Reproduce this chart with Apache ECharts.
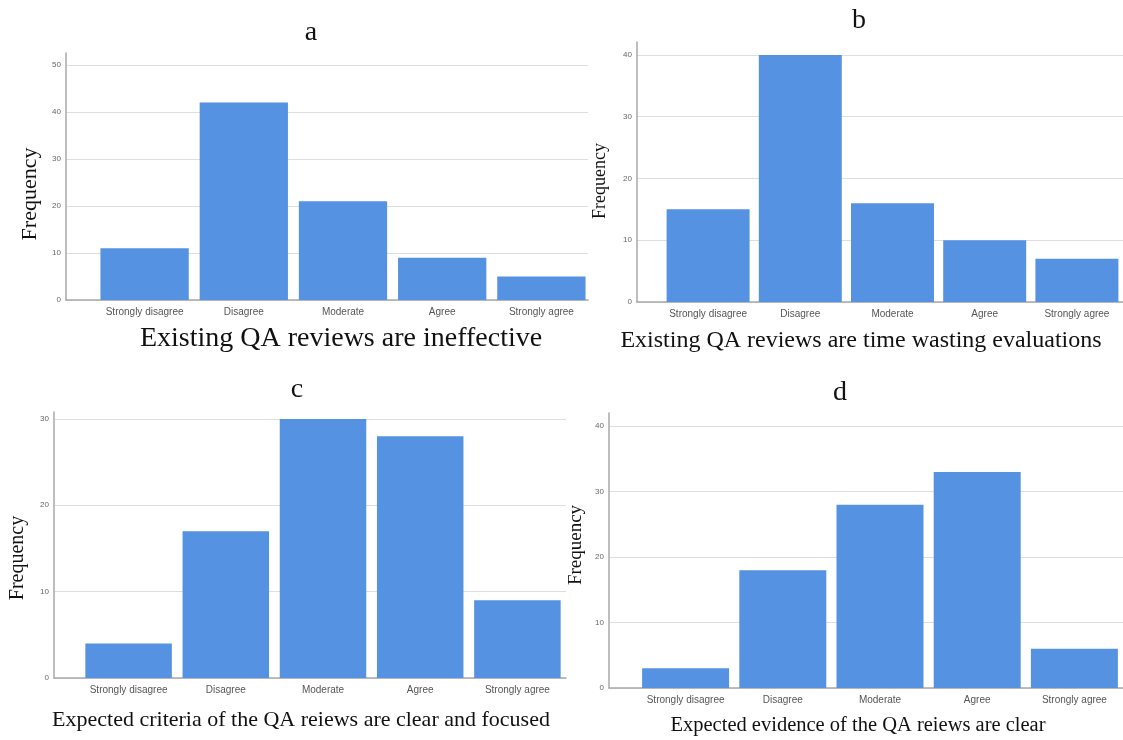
<!DOCTYPE html>
<html>
<head>
<meta charset="utf-8">
<script src="https://cdn.jsdelivr.net/npm/echarts@6/dist/echarts.min.js"></script>
<style>
  html, body { margin: 0; padding: 0; background: #ffffff; }
  #chart { width: 1123px; height: 740px; }
</style>
</head>
<body>
<div id="chart"></div>
<script>
// Response categories shared by all four survey items
const categories = ['Strongly disagree', 'Disagree', 'Moderate', 'Agree', 'Strongly agree'];

// Frequencies per item
const ineffective   = [11, 42, 21, 9, 5];
const timeWasting   = [15, 40, 16, 10, 7];
const criteriaClear = [4, 17, 30, 28, 9];
const evidenceClear = [3, 18, 28, 33, 6];

// Panel letters and item statements
const panelLetters = ['a', 'b', 'c', 'd'];
const itemTitles = [
  'Existing QA reviews are ineffective',
  'Existing QA reviews are time wasting evaluations',
  'Expected criteria of the QA reiews are clear and focused',
  'Expected evidence of the QA reiews are clear'
];
const yLabel = 'Frequency';
const tickStep = 10;

const seriesValues = [ineffective, timeWasting, criteriaClear, evidenceClear];

// Page layout of each panel (pixels)
const layouts = [
  { axisX: 66,  frameRight: 588,  bandL: 95,  bandR: 591,  top: 53,  bottom: 300, yMax: 52.5, gap: '11%',
    letter: [311, 33], name: [341, 339], nameSize: 28, freq: [30, 194], freqSize: 22 },
  { axisX: 637, frameRight: 1123, bandL: 662, bandR: 1125, top: 42,  bottom: 302, yMax: 42.1, gap: '10%',
    letter: [859, 21], name: [861, 341], nameSize: 24, freq: [600, 181], freqSize: 18 },
  { axisX: 54,  frameRight: 566,  bandL: 80,  bandR: 566,  top: 412, bottom: 678, yMax: 30.8, gap: '11%',
    letter: [297, 390], name: [301, 720], nameSize: 22, freq: [18, 558], freqSize: 20 },
  { axisX: 609, frameRight: 1123, bandL: 637, bandR: 1123, top: 413, bottom: 688, yMax: 42,   gap: '10.5%',
    letter: [840, 393], name: [858, 726], nameSize: 20.5, freq: [576, 545], freqSize: 19 }
];

const W = 1123, H = 740;
const BAR_COLOR = '#5592e2';
const GRID_COLOR = '#dedede';
const AXIS_COLOR = '#a9a9a9';
const SERIF = '"Liberation Serif", "Times New Roman", serif';
const SANS = '"Liberation Sans", Arial, sans-serif';

const grid = [], xAxis = [], yAxis = [], series = [], graphic = [];

layouts.forEach((L, i) => {
  // frame grid: y axis, gridlines and baseline
  const fg = grid.length;
  grid.push({ left: L.axisX, width: L.frameRight - L.axisX, top: L.top, height: L.bottom - L.top, containLabel: false });
  xAxis.push({
    gridIndex: fg, type: 'value', min: 0, max: 1,
    axisLine: { show: true, lineStyle: { color: AXIS_COLOR, width: 1.5 } },
    axisTick: { show: false }, axisLabel: { show: false }, splitLine: { show: false }
  });
  yAxis.push({
    gridIndex: fg, type: 'value', min: 0, max: L.yMax, interval: tickStep,
    axisLine: { show: true, onZero: false, lineStyle: { color: AXIS_COLOR, width: 1.5 } },
    axisTick: { show: false },
    axisLabel: {
      margin: 5, fontFamily: SANS, fontSize: 8, color: '#666',
      formatter: v => (v % tickStep === 0 ? String(v) : '')
    },
    splitLine: { show: true, showMaxLine: false, lineStyle: { color: GRID_COLOR, width: 1.2 } }
  });

  // bar grid: category bands for the bars
  const bg = grid.length;
  grid.push({ left: L.bandL, width: L.bandR - L.bandL, top: L.top, height: L.bottom - L.top, containLabel: false });
  xAxis.push({
    gridIndex: bg, type: 'category', data: categories,
    axisLine: { show: false }, axisTick: { show: false },
    axisLabel: { margin: 7, fontFamily: SANS, fontSize: 10, color: '#555', interval: 0 }
  });
  yAxis.push({ gridIndex: bg, type: 'value', min: 0, max: L.yMax, show: false });

  series.push({
    type: 'bar', xAxisIndex: bg, yAxisIndex: bg,
    data: seriesValues[i], barCategoryGap: L.gap,
    itemStyle: { color: BAR_COLOR }, silent: true
  });

  // panel letter
  graphic.push({
    type: 'text', silent: true,
    style: { x: L.letter[0], y: L.letter[1], text: panelLetters[i], textAlign: 'center', textVerticalAlign: 'middle',
             font: '28px ' + SERIF, fill: '#111' }
  });
  // item statement under the axis
  graphic.push({
    type: 'text', silent: true,
    style: { x: L.name[0], y: L.name[1], text: itemTitles[i], textAlign: 'center', textVerticalAlign: 'middle',
             font: L.nameSize + 'px ' + SERIF, fill: '#111' }
  });
  // rotated y-axis title
  graphic.push({
    type: 'text', silent: true, x: L.freq[0], y: L.freq[1], rotation: Math.PI / 2,
    style: { x: 0, y: 0, text: yLabel, textAlign: 'center', textVerticalAlign: 'middle',
             font: L.freqSize + 'px ' + SERIF, fill: '#111' }
  });
});

const chart = echarts.init(document.getElementById('chart'), null, { renderer: 'canvas', width: W, height: H });
chart.setOption({
  backgroundColor: '#ffffff',
  animation: false,
  grid, xAxis, yAxis, series, graphic
});
</script>
</body>
</html>
